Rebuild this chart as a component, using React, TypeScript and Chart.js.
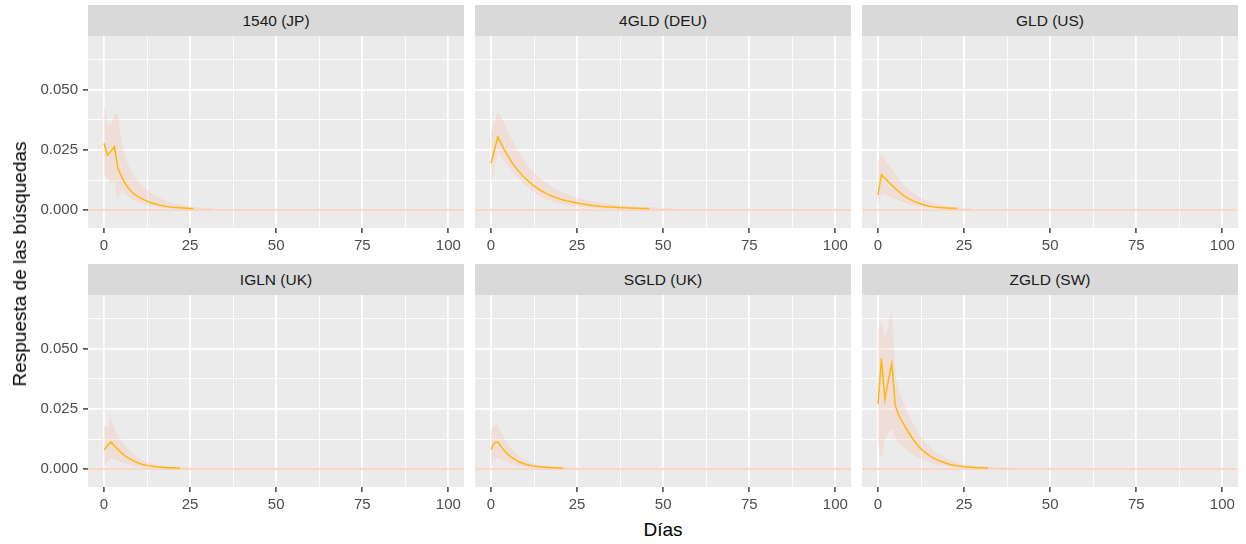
import React, { useEffect, useRef } from "react";
import { Chart, registerables } from "chart.js";

Chart.register(...registerables);

// ---------- data ----------
const PANEL_TITLES = ["1540 (JP)", "4GLD (DEU)", "GLD (US)", "IGLN (UK)", "SGLD (UK)", "ZGLD (SW)"];
const X_MAJOR_TICKS = [0, 25, 50, 75, 100];
const X_MINOR_TICKS = [12.5, 37.5, 62.5, 87.5];
const Y_MAJOR_TICKS = [0, 0.025, 0.05];
const Y_MINOR_TICKS = [0.0125, 0.0375, 0.0625];
const ZERO_LINE_VALUE = 0;
const X_TITLE = "Días";
const Y_TITLE = "Respuesta de las búsquedas";

// response per day (index = day)
const line1540 = [0.0278, 0.0228, 0.0245, 0.0264, 0.0175, 0.0142, 0.0114, 0.0093, 0.0076, 0.0064, 0.0055, 0.0047, 0.0040, 0.0034, 0.0029, 0.0025, 0.0021, 0.0018, 0.0015, 0.0013, 0.0011, 0.0010, 0.0009, 0.0008, 0.0007, 0.0006, 0.0006];
const upper1540 = [0.0440, 0.0360, 0.0350, 0.0400, 0.0400, 0.0290, 0.0230, 0.0190, 0.0160, 0.0135, 0.0117, 0.0102, 0.0089, 0.0078, 0.0068, 0.0059, 0.0051, 0.0044, 0.0038, 0.0033, 0.0029, 0.0025, 0.0022, 0.0019, 0.0017, 0.0015, 0.0013, 0.0012, 0.0010, 0.0009, 0.0008, 0.0007, 0.0006];
const lower1540 = [0.0150, 0.0130, 0.0110, 0.0120, 0.0035, 0.0085, 0.0068, 0.0056, 0.0046, 0.0038, 0.0032, 0.0027, 0.0022, 0.0019, 0.0016, 0.0013, 0.0011, 0.0009, 0.0008, 0.0006, 0.0005, 0.0004, 0.0004, 0.0003, 0.0003, 0.0002, 0.0002, 0.0002, 0.0001, 0.0001, 0.0001, 0.0001, 0.0001];

const line4GLD = [0.0195, 0.0250, 0.0305, 0.0275, 0.0247, 0.0222, 0.0200, 0.0180, 0.0162, 0.0146, 0.0131, 0.0118, 0.0106, 0.0095, 0.0085, 0.0077, 0.0069, 0.0062, 0.0056, 0.0051, 0.0046, 0.0042, 0.0038, 0.0035, 0.0032, 0.0029, 0.0026, 0.0024, 0.0022, 0.0020, 0.0018, 0.0017, 0.0015, 0.0014, 0.0013, 0.0012, 0.0011, 0.0010, 0.0009, 0.0009, 0.0008, 0.0008, 0.0007, 0.0007, 0.0006, 0.0006, 0.0006];
const upper4GLD = [0.0320, 0.0370, 0.0410, 0.0385, 0.0355, 0.0325, 0.0295, 0.0267, 0.0242, 0.0219, 0.0198, 0.0180, 0.0163, 0.0148, 0.0135, 0.0123, 0.0112, 0.0102, 0.0094, 0.0086, 0.0079, 0.0072, 0.0066, 0.0061, 0.0056, 0.0052, 0.0048, 0.0044, 0.0041, 0.0038, 0.0035, 0.0032, 0.0030, 0.0028, 0.0026, 0.0024, 0.0022, 0.0021, 0.0019, 0.0018, 0.0017, 0.0016, 0.0015, 0.0014, 0.0013, 0.0012, 0.0011, 0.0010, 0.0010, 0.0009, 0.0008, 0.0008, 0.0007, 0.0007];
const lower4GLD = [0.0104, 0.0170, 0.0240, 0.0220, 0.0202, 0.0185, 0.0165, 0.0148, 0.0132, 0.0117, 0.0103, 0.0090, 0.0079, 0.0069, 0.0060, 0.0052, 0.0046, 0.0040, 0.0035, 0.0031, 0.0027, 0.0024, 0.0021, 0.0018, 0.0016, 0.0014, 0.0012, 0.0011, 0.0010, 0.0009, 0.0008, 0.0007, 0.0007, 0.0006, 0.0006, 0.0005, 0.0005, 0.0004, 0.0004, 0.0004, 0.0003, 0.0003, 0.0003, 0.0003, 0.0002, 0.0002, 0.0002, 0.0002, 0.0002, 0.0001, 0.0001, 0.0001, 0.0001, 0.0001];

const lineGLD = [0.0063, 0.0148, 0.0133, 0.0118, 0.0104, 0.0090, 0.0077, 0.0065, 0.0055, 0.0046, 0.0039, 0.0033, 0.0028, 0.0023, 0.0019, 0.0016, 0.0013, 0.0011, 0.0010, 0.0009, 0.0008, 0.0007, 0.0007, 0.0006];
const upperGLD = [0.0200, 0.0236, 0.0215, 0.0190, 0.0168, 0.0148, 0.0130, 0.0113, 0.0098, 0.0085, 0.0073, 0.0063, 0.0054, 0.0046, 0.0040, 0.0034, 0.0029, 0.0025, 0.0021, 0.0018, 0.0016, 0.0014, 0.0012, 0.0011, 0.0010, 0.0009, 0.0008, 0.0007];
const lowerGLD = [0.0010, 0.0070, 0.0065, 0.0060, 0.0053, 0.0046, 0.0040, 0.0034, 0.0029, 0.0024, 0.0020, 0.0017, 0.0014, 0.0012, 0.0010, 0.0008, 0.0007, 0.0006, 0.0005, 0.0004, 0.0003, 0.0003, 0.0002, 0.0002, 0.0002, 0.0001, 0.0001, 0.0001];

const lineIGLN = [0.0080, 0.0097, 0.0113, 0.0097, 0.0082, 0.0068, 0.0056, 0.0046, 0.0038, 0.0031, 0.0025, 0.0020, 0.0016, 0.0013, 0.0011, 0.0009, 0.0008, 0.0007, 0.0006, 0.0005, 0.0005, 0.0004, 0.0004];
const upperIGLN = [0.0183, 0.0170, 0.0218, 0.0165, 0.0140, 0.0118, 0.0099, 0.0083, 0.0069, 0.0057, 0.0047, 0.0039, 0.0032, 0.0027, 0.0022, 0.0019, 0.0016, 0.0014, 0.0012, 0.0010, 0.0009, 0.0008, 0.0007, 0.0006, 0.0006, 0.0005];
const lowerIGLN = [0.0010, 0.0030, 0.0045, 0.0040, 0.0034, 0.0029, 0.0024, 0.0020, 0.0016, 0.0013, 0.0011, 0.0009, 0.0007, 0.0006, 0.0005, 0.0004, 0.0004, 0.0003, 0.0003, 0.0002, 0.0002, 0.0002, 0.0001, 0.0001, 0.0001, 0.0001];

const lineSGLD = [0.0080, 0.0110, 0.0112, 0.0092, 0.0074, 0.0060, 0.0048, 0.0039, 0.0031, 0.0025, 0.0020, 0.0016, 0.0013, 0.0011, 0.0009, 0.0008, 0.0007, 0.0006, 0.0005, 0.0005, 0.0004, 0.0004];
const upperSGLD = [0.0160, 0.0183, 0.0183, 0.0150, 0.0124, 0.0102, 0.0084, 0.0069, 0.0056, 0.0046, 0.0037, 0.0030, 0.0025, 0.0021, 0.0017, 0.0015, 0.0013, 0.0011, 0.0010, 0.0009, 0.0008, 0.0007, 0.0006, 0.0006, 0.0005];
const lowerSGLD = [0.0010, 0.0040, 0.0048, 0.0040, 0.0032, 0.0026, 0.0021, 0.0017, 0.0014, 0.0011, 0.0009, 0.0007, 0.0006, 0.0005, 0.0004, 0.0004, 0.0003, 0.0003, 0.0002, 0.0002, 0.0002, 0.0001, 0.0001, 0.0001, 0.0001];

const lineZGLD = [0.0270, 0.0460, 0.0290, 0.0370, 0.0440, 0.0265, 0.0225, 0.0198, 0.0172, 0.0150, 0.0128, 0.0108, 0.0091, 0.0077, 0.0065, 0.0055, 0.0046, 0.0039, 0.0033, 0.0028, 0.0023, 0.0019, 0.0016, 0.0013, 0.0011, 0.0009, 0.0008, 0.0007, 0.0006, 0.0005, 0.0005, 0.0004, 0.0004];
const upperZGLD = [0.0580, 0.0620, 0.0540, 0.0600, 0.0670, 0.0390, 0.0330, 0.0290, 0.0255, 0.0225, 0.0195, 0.0168, 0.0145, 0.0125, 0.0108, 0.0093, 0.0080, 0.0069, 0.0059, 0.0051, 0.0044, 0.0038, 0.0033, 0.0028, 0.0024, 0.0021, 0.0018, 0.0016, 0.0014, 0.0012, 0.0011, 0.0010, 0.0009, 0.0008, 0.0007, 0.0007, 0.0006, 0.0006, 0.0005, 0.0005, 0.0004];
const lowerZGLD = [0.0110, 0.0040, 0.0120, 0.0150, 0.0170, 0.0130, 0.0110, 0.0097, 0.0084, 0.0072, 0.0062, 0.0052, 0.0044, 0.0037, 0.0031, 0.0026, 0.0022, 0.0018, 0.0015, 0.0013, 0.0011, 0.0009, 0.0008, 0.0007, 0.0006, 0.0005, 0.0004, 0.0004, 0.0003, 0.0003, 0.0003, 0.0002, 0.0002, 0.0002, 0.0002, 0.0001, 0.0001, 0.0001, 0.0001, 0.0001, 0.0001];

const PANEL_LINES = [line1540, line4GLD, lineGLD, lineIGLN, lineSGLD, lineZGLD];
const PANEL_UPPER = [upper1540, upper4GLD, upperGLD, upperIGLN, upperSGLD, upperZGLD];
const PANEL_LOWER = [lower1540, lower4GLD, lowerGLD, lowerIGLN, lowerSGLD, lowerZGLD];

const X_MIN = -4.65;
const X_MAX = 104.55;
const Y_MIN = -0.0075;
const Y_MAX = 0.0725;

// ---------- layout / style ----------
const FONT = "'Liberation Sans', Arial, sans-serif";
const PANEL_LEFT = [88, 475, 862];
const PLOT_TOP = [36, 295];
const PLOT_W = 376;
const PLOT_H = 192;
const STRIP_H = 31;
const AXIS_H = 32;
const Y_AXIS_W = 88;
const PANEL_BG = "#EBEBEB";
const STRIP_BG = "#D9D9D9";
const LINE_COLOR = "#FFB60F";
const RIBBON_COLOR = "rgba(250,185,155,0.25)";
const ZERO_COLOR = "rgba(250,160,120,0.55)";

const isMajor = (v: number, step: number) => Math.abs(v / step - Math.round(v / step)) < 1e-6;

const bgPlugin = {
  id: "panelBg",
  beforeDraw(chart: any) {
    const { ctx, chartArea } = chart;
    ctx.save();
    ctx.fillStyle = PANEL_BG;
    ctx.fillRect(chartArea.left, chartArea.top, chartArea.right - chartArea.left, chartArea.bottom - chartArea.top);
    ctx.restore();
  },
};

const toPoints = (arr: number[]) => arr.map((v, i) => ({ x: i, y: v }));

function Panel({ index }: { index: number }) {
  const ref = useRef<HTMLCanvasElement>(null);
  const row = Math.floor(index / 3);
  const col = index % 3;
  const showY = col === 0;
  const left = showY ? 0 : PANEL_LEFT[col];
  const width = showY ? Y_AXIS_W + PLOT_W : PLOT_W;
  const height = PLOT_H + AXIS_H;
  const top = PLOT_TOP[row];

  useEffect(() => {
    if (!ref.current) return;
    const tickFont = { family: FONT, size: 15 };
    const chart = new Chart(ref.current, {
      type: "line",
      data: {
        datasets: [
          {
            data: toPoints(PANEL_LINES[index]),
            borderColor: LINE_COLOR,
            borderWidth: 1.5,
            pointRadius: 0,
            fill: false,
            tension: 0,
          },
          {
            data: [
              { x: X_MIN, y: ZERO_LINE_VALUE },
              { x: X_MAX, y: ZERO_LINE_VALUE },
            ],
            borderColor: ZERO_COLOR,
            borderWidth: 1.5,
            pointRadius: 0,
            fill: false,
          },
          {
            data: toPoints(PANEL_UPPER[index]),
            borderColor: "rgba(0,0,0,0)",
            borderWidth: 0,
            backgroundColor: RIBBON_COLOR,
            pointRadius: 0,
            fill: "+1",
          },
          {
            data: toPoints(PANEL_LOWER[index]),
            borderColor: "rgba(0,0,0,0)",
            borderWidth: 0,
            pointRadius: 0,
            fill: false,
          },
        ],
      },
      options: {
        animation: false,
        responsive: false,
        events: [],
        layout: { padding: 0 },
        plugins: { legend: { display: false }, tooltip: { enabled: false }, title: { display: false } },
        scales: {
          x: {
            type: "linear",
            min: X_MIN,
            max: X_MAX,
            afterBuildTicks: (s: any) => {
              s.ticks = [...X_MAJOR_TICKS, ...X_MINOR_TICKS].sort((a, b) => a - b).map((v) => ({ value: v }));
            },
            afterFit: (s: any) => {
              s.height = AXIS_H;
              s.paddingLeft = 0;
              s.paddingRight = 0;
            },
            ticks: {
              autoSkip: false,
              maxRotation: 0,
              padding: 4,
              color: "#4D4D4D",
              font: tickFont,
              callback: (v: any) => (isMajor(Number(v), 25) ? String(v) : ""),
            },
            grid: {
              color: "#FFFFFF",
              lineWidth: (c: any) => (isMajor(c.tick ? c.tick.value : 0, 25) ? 1.8 : 0.9),
              tickColor: (c: any) => (isMajor(c.tick ? c.tick.value : 0, 25) ? "#333333" : "rgba(0,0,0,0)"),
              tickWidth: 1.4,
              tickLength: 5,
            },
            border: { display: false },
          },
          y: {
            type: "linear",
            position: "left",
            min: Y_MIN,
            max: Y_MAX,
            afterBuildTicks: (s: any) => {
              s.ticks = [...Y_MAJOR_TICKS, ...Y_MINOR_TICKS].sort((a, b) => a - b).map((v) => ({ value: v }));
            },
            afterFit: (s: any) => {
              s.width = showY ? Y_AXIS_W : 0;
              s.paddingTop = 0;
              s.paddingBottom = 0;
            },
            ticks: {
              display: showY,
              autoSkip: false,
              padding: 5,
              color: "#4D4D4D",
              font: tickFont,
              callback: (v: any) => (isMajor(Number(v), 0.025) ? Number(v).toFixed(3) : ""),
            },
            grid: {
              color: "#FFFFFF",
              lineWidth: (c: any) => (isMajor(c.tick ? c.tick.value : 0, 0.025) ? 1.8 : 0.9),
              tickColor: (c: any) => (isMajor(c.tick ? c.tick.value : 0, 0.025) ? "#333333" : "rgba(0,0,0,0)"),
              tickWidth: 1.4,
              tickLength: 5,
              drawTicks: showY,
            },
            border: { display: false },
          },
        },
      },
      plugins: [bgPlugin],
    } as any);
    return () => chart.destroy();
  }, [index]);

  return (
    <>
      <div
        style={{
          position: "absolute",
          left: PANEL_LEFT[col],
          top: top - STRIP_H,
          width: PLOT_W,
          height: STRIP_H,
          background: STRIP_BG,
          color: "#1A1A1A",
          fontFamily: FONT,
          fontSize: 15.5,
          lineHeight: `${STRIP_H}px`,
          textAlign: "center",
        }}
      >
        {PANEL_TITLES[index]}
      </div>
      <canvas
        ref={ref}
        width={width}
        height={height}
        style={{ position: "absolute", left, top, width, height }}
      />
    </>
  );
}

export default function App() {
  return (
    <div style={{ position: "absolute", left: 0, top: 0, width: 1246, height: 544, background: "#FFFFFF", overflow: "hidden" }}>
      {PANEL_TITLES.map((_, i) => (
        <Panel key={i} index={i} />
      ))}
      <div
        style={{
          position: "absolute",
          left: 20,
          top: 264,
          transform: "translate(-50%, -50%) rotate(-90deg)",
          whiteSpace: "nowrap",
          fontFamily: FONT,
          fontSize: 19,
          color: "#000000",
        }}
      >
        {Y_TITLE}
      </div>
      <div
        style={{
          position: "absolute",
          left: 663,
          top: 530,
          transform: "translate(-50%, -50%)",
          whiteSpace: "nowrap",
          fontFamily: FONT,
          fontSize: 19,
          color: "#000000",
        }}
      >
        {X_TITLE}
      </div>
    </div>
  );
}
